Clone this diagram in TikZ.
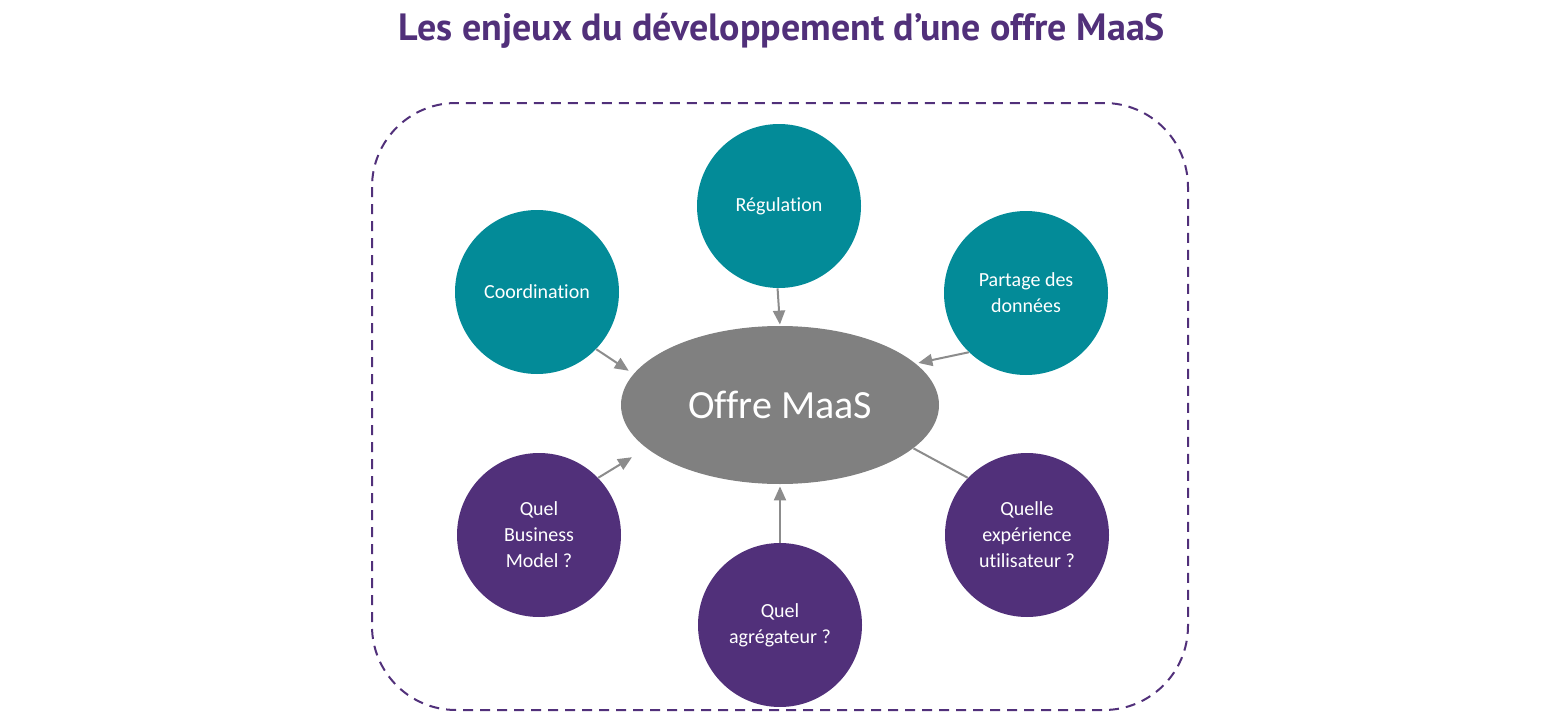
\documentclass[tikz,border=0pt]{standalone}
\usepackage{fontspec}
\setmainfont{Carlito}[Ligatures=NoCommon]
\newfontfamily\titlefont{PT Sans}
\usetikzlibrary{arrows.meta,shapes.geometric}
\definecolor{maaspurple}{RGB}{81,48,122}
\definecolor{maasteal}{RGB}{3,139,152}
\definecolor{maasgray}{RGB}{128,128,128}
\definecolor{linkgray}{RGB}{140,140,140}

\begin{document}
\begin{tikzpicture}[x=0.5pt,y=-0.5pt,>={Triangle[length=7pt,width=6pt]},
  topic/.style={circle,fill=#1,minimum size=82pt,inner sep=0pt,text=white,
    align=center,font=\fontsize{10}{13}\selectfont},
  link/.style={linkgray,line width=1pt}]
  \useasboundingbox (0,0) rectangle (1560,712);
  \node[font=\titlefont\bfseries\fontsize{19}{21}\selectfont,text=maaspurple] (title) at (782,31)
    {Les enjeux du développement d’une offre MaaS};
  \draw[maaspurple,line width=1pt,dash pattern=on 5pt off 3.5pt,rounded corners=42pt]
    (372,103) rectangle (1188,710);
  \node[ellipse,fill=maasgray,minimum width=159pt,minimum height=79pt,text=white,
    font=\fontsize{20}{24}\selectfont] (offre) at (780,405) {Offre MaaS};
  % questions a traiter
  \node[topic=maasteal] (reg) at (779,206) {Régulation};
  \node[topic=maasteal] (coord) at (537,292) {Coordination};
  \node[topic=maasteal] (data) at (1026,293) {Partage des\\données};
  \node[topic=maaspurple] (bm) at (539,535) {Quel\\Business\\Model ?};
  \node[topic=maaspurple] (agg) at (780,625) {Quel\\agrégateur ?};
  \node[topic=maaspurple] (ux) at (1027,535) {Quelle\\expérience\\utilisateur ?};
  \foreach \src/\a/\b/\gap in {reg/-91/90/0.5pt,coord/-44/168/2.8pt,data/-134/17/1.3pt,
      bm/44/-162/8.5pt,agg/90/-90/1pt}
    \draw[link,->,shorten >=\gap] (\src.\a) -- (offre.\b);
  \draw[link] (ux.136) -- (offre.-18);
\end{tikzpicture}
\end{document}
